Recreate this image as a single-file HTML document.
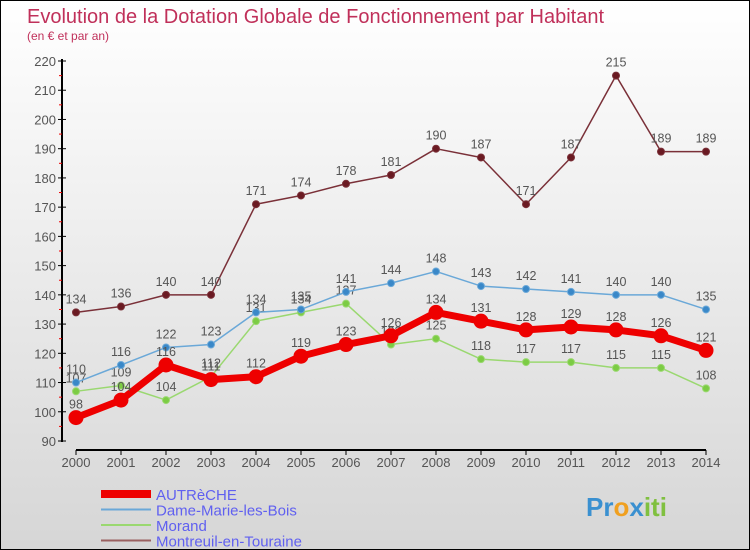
<!DOCTYPE html>
<html><head><meta charset="utf-8"><style>
body{margin:0}
#c{width:748px;height:548px;border:1px solid #000;background:linear-gradient(#fff,#d6d6d6);position:relative;font-family:"Liberation Sans",sans-serif;overflow:hidden}
svg text{font-family:"Liberation Sans",sans-serif}
</style></head><body>
<div id="c">
<svg id="s" width="748" height="548">
<text x="26" y="22" font-size="20" fill="#c0305a">Evolution de la Dotation Globale de Fonctionnement par Habitant</text>
<text x="26" y="39" font-size="12" fill="#c0305a">(en € et par an)</text>
</svg>
</div>
<script>
const years=["2000","2001","2002","2003","2004","2005","2006","2007","2008","2009","2010","2011","2012","2013","2014"];
const autreche=[98,104,116,111,112,119,123,126,134,131,128,129,128,126,121];
const dame=[110,116,122,123,134,135,141,144,148,143,142,141,140,140,135];
const morand=[107,109,104,112,131,134,137,123,125,118,117,117,115,115,108];
const montreuil=[134,136,140,140,171,174,178,181,190,187,171,187,215,189,189];
const yTicks=[90,100,110,120,130,140,150,160,170,180,190,200,210,220];
const names=["AUTRèCHE","Dame-Marie-les-Bois","Morand","Montreuil-en-Touraine"];
const s=document.getElementById('s');const NS="http://www.w3.org/2000/svg";
function X(i){return 75+i*45;}
function Y(v){return 440-(v-90)*380/130;}
function el(t,a,p){const e=document.createElementNS(NS,t);for(const k in a)e.setAttribute(k,a[k]);(p||s).appendChild(e);return e;}
let ax=el('line',{x1:61,y1:58,x2:61,y2:441,stroke:'#000','stroke-width':2});


yTicks.forEach((v,k)=>{el('line',{x1:57,x2:65,y1:Y(v),y2:Y(v),stroke:'#000'});
if(k<yTicks.length-1)el('line',{x1:58,x2:61,y1:Y(v+5),y2:Y(v+5),stroke:'#e00'});
const t=el('text',{x:55,y:Y(v)+5,'text-anchor':'end','font-size':13,fill:'#555'});t.textContent=v;

});
let xa=el('line',{x1:75,y1:449,x2:705,y2:449,stroke:'#000','stroke-width':2});


years.forEach((y,i)=>{el('line',{x1:X(i),x2:X(i),y1:449,y2:454,stroke:'#000'});
const t=el('text',{x:X(i),y:466,'text-anchor':'middle','font-size':13,fill:'#555'});t.textContent=y;

});
function series(d,col,dot,w,r,name){
const g=el('g',{});


el('polyline',{points:d.map((v,i)=>X(i)+','+Y(v)).join(' '),fill:'none',stroke:col,'stroke-width':w,'stroke-linejoin':'round'},g);
d.forEach((v,i)=>{el('circle',{cx:X(i),cy:Y(v),r:r,fill:dot,stroke:col,'stroke-width':1},g);
const t=el('text',{x:X(i),y:Y(v)-9,'text-anchor':'middle','font-size':12.5,fill:'#555'},g);t.textContent=v;});}
series(montreuil,'#7a3038','#6a1a22',1.5,3.5,'series-montreuil');
series(morand,'#9ad870','#7ccc44',1.5,3.5,'series-morand');
series(dame,'#6aa8d8','#3a88c8',1.5,3.5,'series-dame-marie');
series(autreche,'#ee0000','#ee0000',7,7,'series-autreche');
const lc=['#ee0000','#6aa8d8','#9ad870','#9a6060'],lw=[8,2,2,2];
names.forEach((n,i)=>{const y=493+i*15.5;
const l=el('line',{x1:100,x2:150,y1:y,y2:y,stroke:lc[i],'stroke-width':lw[i]});


const t=el('text',{x:155,y:y+6,'font-size':15,fill:'#6060f0'});t.textContent=n;

});
const p=el('text',{x:585,y:515,'font-size':26,'font-weight':'bold',fill:'#f0a020'});
p.innerHTML='<tspan fill="#3a90d0">Pr</tspan><tspan fill="#f0a020">o</tspan><tspan fill="#3a90d0">x</tspan><tspan fill="#80c040">iti</tspan>';


</script>
</body></html>
